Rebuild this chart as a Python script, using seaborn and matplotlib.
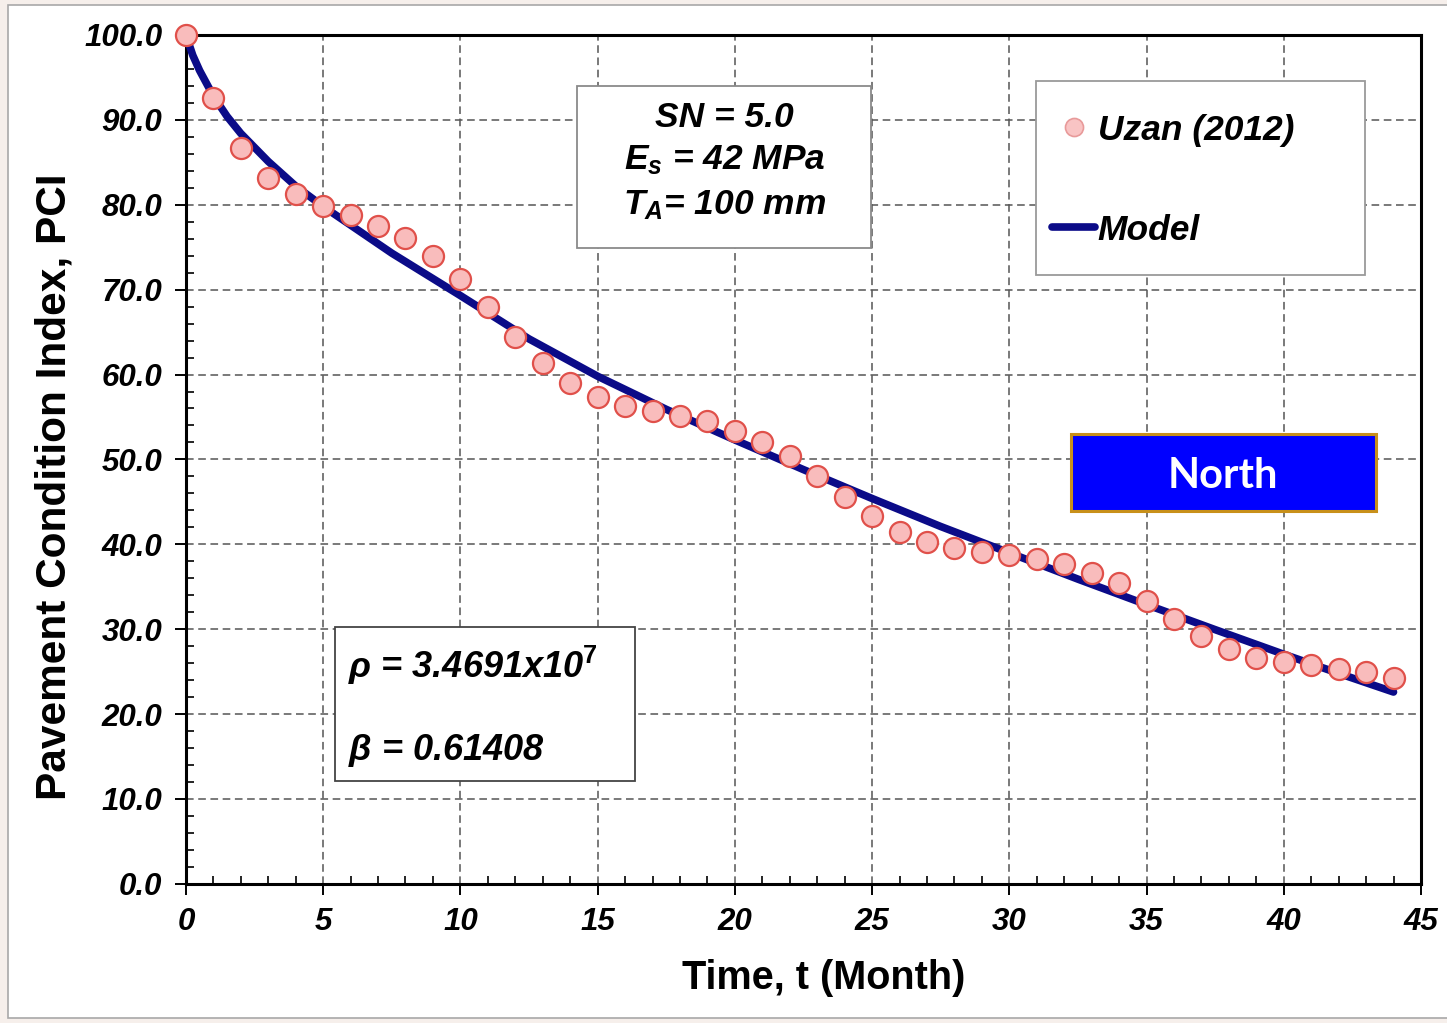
import matplotlib
matplotlib.use("Agg")
import matplotlib.pyplot as plt
from matplotlib.patches import Rectangle
from matplotlib.lines import Line2D
from matplotlib.ticker import MultipleLocator, FormatStrFormatter
import seaborn as sns
import pandas as pd

# measured PCI (Uzan 2012), one point per month
months = list(range(0, 45))
pci_obs = [100.0, 92.6, 86.7, 83.2, 81.3, 79.9, 78.8, 77.5, 76.1, 74.0,
           71.3, 68.0, 64.4, 61.4, 59.0, 57.4, 56.3, 55.7, 55.1, 54.5,
           53.4, 52.1, 50.4, 48.1, 45.6, 43.3, 41.5, 40.3, 39.6, 39.1,
           38.8, 38.3, 37.7, 36.6, 35.5, 33.3, 31.2, 29.2, 27.7, 26.6,
           26.1, 25.8, 25.3, 24.9, 24.3]

# model curve
model_t = [0, 0.25, 0.5, 1, 1.5, 2, 3, 4, 5, 6, 7.5, 10, 12.5, 15, 17.5,
           20, 22.5, 25, 27.5, 30, 32.5, 35, 37.5, 40, 42, 44]
model_pci = [100.0, 97.6, 95.8, 92.8, 90.4, 88.4, 85.1, 82.2, 79.8, 77.6,
             74.3, 69.3, 64.2, 59.8, 55.9, 52.3, 48.8, 45.4, 42.1, 39.0,
             35.9, 32.9, 29.95, 27.05, 24.8, 22.6]

obs = pd.DataFrame({"t": months, "pci": pci_obs})
model = pd.DataFrame({"t": model_t, "pci": model_pci})

sns.set_style("white")
plt.rcParams["font.family"] = ["Liberation Sans", "DejaVu Sans"]
plt.rcParams["text.color"] = "black"
plt.rcParams["axes.labelcolor"] = "black"
plt.rcParams["xtick.color"] = "black"
plt.rcParams["ytick.color"] = "black"
plt.rcParams["mathtext.fontset"] = "custom"
plt.rcParams["mathtext.it"] = "Liberation Sans:bold:italic"
plt.rcParams["mathtext.rm"] = "Liberation Sans:bold"

fig = plt.figure(figsize=(14.47, 10.23), dpi=100)
fig.patch.set_facecolor("#f6efeb")
fig.patches.append(Rectangle((8 / 1447, 5 / 1023), 1 - 8 / 1447 + 0.01, 1 - 10 / 1023,
                             transform=fig.transFigure, facecolor="white",
                             edgecolor="#a8a8a8", lw=1.2, zorder=-10))
ax = fig.add_axes([0.1285, 0.136, 0.8535, 0.8298])
ax.set_facecolor("white")

navy = "#0b0b88"
sns.lineplot(data=model, x="t", y="pci", ax=ax, color=navy, lw=5.5,
             solid_capstyle="round", solid_joinstyle="round", zorder=3)
sns.scatterplot(data=obs, x="t", y="pci", ax=ax, s=230, color="#f9bcbc",
                edgecolor="#e0504a", linewidth=1.6, zorder=4, clip_on=False)

ax.set_xlim(0, 45)
ax.set_ylim(0, 100)
ax.xaxis.set_major_locator(MultipleLocator(5))
ax.xaxis.set_minor_locator(MultipleLocator(1))
ax.yaxis.set_major_locator(MultipleLocator(10))
ax.yaxis.set_minor_locator(MultipleLocator(2))
ax.yaxis.set_major_formatter(FormatStrFormatter("%.1f"))
ax.grid(True, which="major", color="#555555", lw=1.1, ls=(0, (5, 3)))
ax.set_axisbelow(True)

ax.tick_params(which="major", direction="out", length=8, width=1.4,
               bottom=True, left=True, top=False, right=False, labelsize=22.5)
ax.tick_params(which="minor", direction="in", length=5.5, width=1.2,
               bottom=True, left=True, top=False, right=False)
ax.tick_params(axis="y", which="major", pad=9)
ax.tick_params(axis="x", which="major", pad=9)
for lab in ax.get_xticklabels() + ax.get_yticklabels():
    lab.set_fontweight("bold")
    lab.set_fontstyle("italic")
for sp in ax.spines.values():
    sp.set_visible(True)
    sp.set_color("black")
    sp.set_linewidth(2.2)

ax.set_xlabel("Time, t (Month)", fontsize=28.5, fontweight="bold")
ax.set_ylabel("Pavement Condition Index, PCI", fontsize=30.5, fontweight="bold")
ax.xaxis.set_label_coords(0.516, -0.089)
ax.yaxis.set_label_coords(-0.090, 0.468)

# parameter boxes
ax.add_patch(Rectangle((0.3166, 0.749), 0.2381, 0.191, transform=ax.transAxes,
                       facecolor="white", edgecolor="#8a8a8a", lw=1.3, zorder=5))
box_kw = dict(transform=ax.transAxes, ha="center", va="center", fontsize=25.5,
              fontweight="bold", fontstyle="italic", zorder=6)
ax.text(0.436, 0.903, "SN = 5.0", **box_kw)
ax.text(0.436, 0.852, r"$E_s$ = 42 MPa", **box_kw)
ax.text(0.436, 0.799, r"$T_A$= 100 mm", **box_kw)

ax.add_patch(Rectangle((0.1206, 0.1213), 0.243, 0.1814, transform=ax.transAxes,
                       facecolor="white", edgecolor="#444444", lw=1.3, zorder=5))
left_kw = dict(transform=ax.transAxes, ha="left", va="center", fontsize=26,
               fontweight="bold", fontstyle="italic", zorder=6)
ax.text(0.131, 0.257, r"$\rho$ = 3.4691x10$^7$", **left_kw)
ax.text(0.131, 0.157, r"$\beta$ = 0.61408", **left_kw)

# North label
ax.add_patch(Rectangle((0.717, 0.439), 0.2466, 0.091, transform=ax.transAxes,
                       facecolor="#0000ff", edgecolor="#c8901a", lw=2.2, zorder=5))
ax.text(0.840, 0.480, "North", transform=ax.transAxes, ha="center", va="center",
        fontsize=30, fontweight="bold", color="white", family="Lato", zorder=6)

# legend: frame drawn as its own box, entries placed inside it
ax.add_patch(Rectangle((0.688, 0.717), 0.267, 0.229, transform=ax.transAxes,
                       facecolor="white", edgecolor="#9a9a9a", lw=1.3, zorder=5))
handles = [
    Line2D([], [], ls="none", marker="o", markersize=13, markerfacecolor="#f9c4c4",
           markeredgecolor="#e89a9a", markeredgewidth=1.2, label="Uzan (2012)"),
    Line2D([], [], color=navy, lw=5.5, solid_capstyle="round", label="Model"),
]
leg = ax.legend(handles=handles, loc="center left",
                bbox_to_anchor=(0.7015, 0.829), frameon=False,
                borderpad=0, labelspacing=1.9, handlelength=1.2,
                handletextpad=0.08, borderaxespad=0,
                prop=dict(size=25.5, weight="bold", style="italic"))
leg.set_zorder(6)

fig.savefig("out.png", dpi=100, facecolor=fig.get_facecolor())
